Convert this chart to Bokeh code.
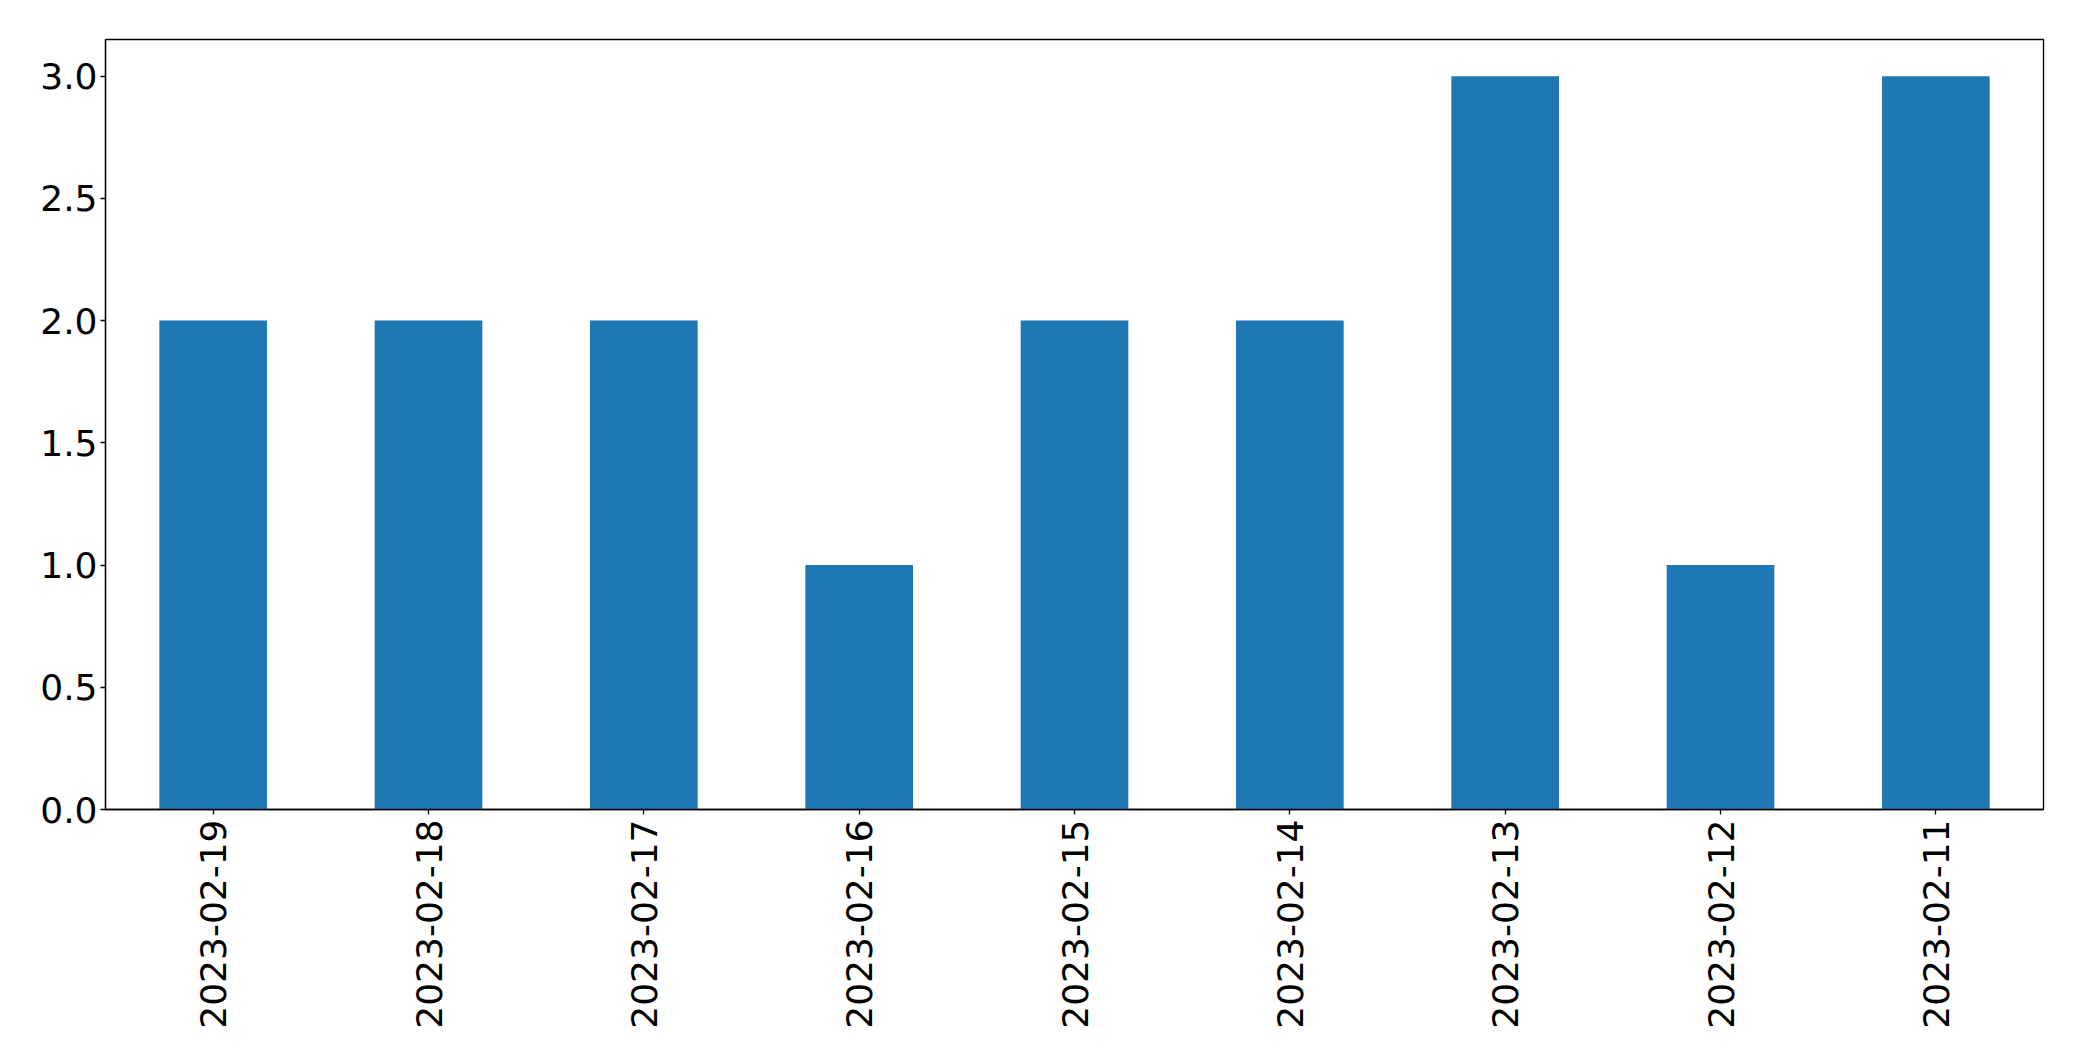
import math
from bokeh.plotting import figure
from bokeh.models import FactorRange, Range1d, FixedTicker, NumeralTickFormatter, ColumnDataSource
from bokeh.embed import file_html
from bokeh.resources import INLINE

dates = ["2023-02-19", "2023-02-18", "2023-02-17", "2023-02-16", "2023-02-15",
         "2023-02-14", "2023-02-13", "2023-02-12", "2023-02-11"]
counts = [2, 2, 2, 1, 2, 2, 3, 1, 3]
y_ticks = [0.0, 0.5, 1.0, 1.5, 2.0, 2.5, 3.0]

src = ColumnDataSource(dict(date=dates, count=counts))

p = figure(x_range=FactorRange(*dates, range_padding=0), y_range=Range1d(0, 3.15),
           frame_width=1938, frame_height=770,
           min_border_left=105, min_border_top=39, min_border_right=20, min_border_bottom=220,
           output_backend="svg", toolbar_location=None)

p.vbar(x="date", top="count", width=0.5, source=src, color="#1f77b4", line_color=None)

p.xgrid.visible = False
p.ygrid.visible = False
p.outline_line_color = "black"
p.outline_line_alpha = 1
p.outline_line_width = 1.3

p.yaxis.ticker = FixedTicker(ticks=y_ticks)
p.yaxis.formatter = NumeralTickFormatter(format="0.0")

for ax in (p.xaxis[0], p.yaxis[0]):
    ax.axis_line_color = "black"
    ax.axis_line_width = 1.3
    ax.major_tick_line_color = "black"
    ax.major_tick_line_width = 1.3
    ax.major_tick_out = 5
    ax.major_tick_in = 0
    ax.minor_tick_line_color = None
    ax.major_label_text_font = "DejaVu Sans"
    ax.major_label_text_font_size = "36px"
    ax.major_label_text_color = "black"

p.yaxis.major_label_standoff = 3
p.xaxis.major_label_standoff = 5
p.xaxis.major_label_orientation = math.pi / 2

open("out.html", "w").write(file_html(p, INLINE))
